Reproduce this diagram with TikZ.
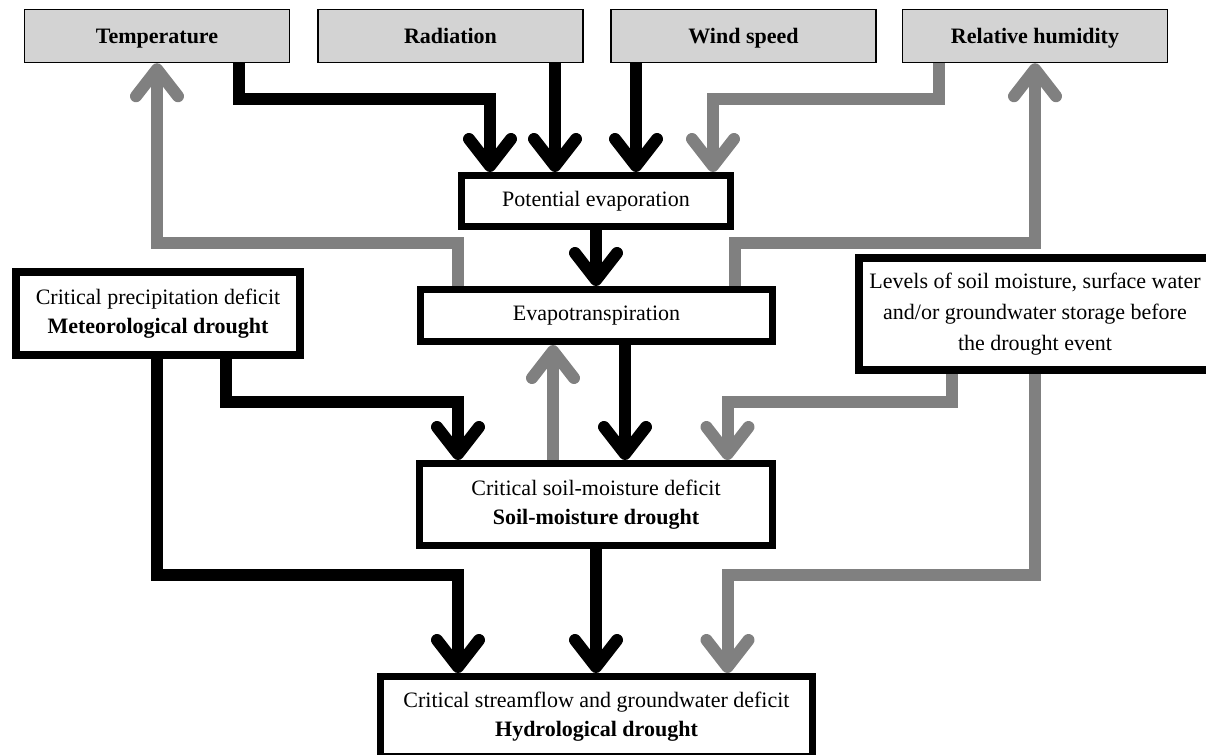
\documentclass[tikz,border=0pt]{standalone}
\usepackage{fontspec}
\setmainfont{Liberation Serif}
\usetikzlibrary{arrows.meta}
\def\px{0.75pt}
\definecolor{boxgray}{RGB}{211,211,211}
\definecolor{linegray}{RGB}{128,128,128}
\pgfdeclarearrow{
  name = Chev,
  setup code = {
    \pgfarrowssettipend{4.5pt}
    \pgfarrowssetlineend{-2pt}
    \pgfarrowssetbackend{-24.75pt}
  },
  drawing code = {
    \pgfsetdash{}{0pt}
    \pgfsetlinewidth{9pt}
    \pgfsetroundcap
    \pgfsetroundjoin
    \pgfpathmoveto{\pgfpoint{-20.25pt}{15.75pt}}
    \pgfpathlineto{\pgfpointorigin}
    \pgfpathlineto{\pgfpoint{-20.25pt}{-15.75pt}}
    \pgfusepathqstroke
  }
}
\tikzset{
  txt/.style={font=\fontsize{16.5pt}{21.75pt}\selectfont},
  topbox/.style={draw=black, line width=1.5*\px, fill=boxgray, minimum width=265*\px,
    minimum height=53*\px, inner sep=0pt, text height=11pt, text depth=0pt,
    font=\fontsize{16.5pt}{21.75pt}\selectfont\bfseries},
  mainbox/.style={txt, draw=black, line width=7*\px, fill=white, align=center, inner sep=0pt},
  blk/.style={draw=black, line width=12*\px, line join=miter, line cap=butt, -Chev},
  gry/.style={blk, draw=linegray},
}
\begin{document}
\begin{tikzpicture}[x=0.75pt, y=-0.75pt]
\useasboundingbox (0,0) rectangle (1206,755);
% top boxes
\node[topbox] (t) at (157,36) {Temperature};
\node[topbox] (r) at (450.5,36) {Radiation};
\node[topbox] (w) at (743.5,36) {Wind speed};
\node[topbox] (h) at (1035,36) {Relative humidity};
% main boxes
\node[mainbox, minimum width=269*\px, minimum height=51*\px] (pe) at (596,201) {Potential evaporation};
\node[mainbox, minimum width=352*\px, minimum height=52*\px] (et) at (596.5,315.5) {Evapotranspiration};
\node[mainbox, line width=8*\px, minimum width=284*\px, minimum height=83*\px] (met) at (158,313.5)
  {Critical precipitation deficit\\\textbf{Meteorological drought}};
\node[mainbox, line width=8*\px, minimum width=352*\px, minimum height=112*\px,
  font=\fontsize{16.5pt}{23pt}\selectfont] (lv) at (1035,314)
  {Levels of soil moisture, surface water\\and/or groundwater storage before\\the drought event};
\node[mainbox, minimum width=353*\px, minimum height=82*\px] (sm) at (596,504.5)
  {Critical soil-moisture deficit\\\textbf{Soil-moisture drought}};
\node[mainbox, minimum width=432*\px, minimum height=80*\px] (hy) at (596.5,716.5)
  {Critical streamflow and groundwater deficit\\\textbf{Hydrological drought}};
% connectors into potential evaporation
\draw[blk] (t.south -| 239,0) |- (490,99.5) -- (pe.north -| 490,0);
\draw[blk] (r.south -| 555,0) -- (pe.north -| 555,0);
\draw[blk] (w.south -| 636,0) -- (pe.north -| 636,0);
\draw[gry] (h.south -| 939,0) |- (713,99.5) -- (pe.north -| 713,0);
% evapotranspiration feedbacks
\draw[gry] (et.north -| 458,0) |- (157,243) -- (t.south);
\draw[gry] (et.north -| 735,0) |- (1035,243) -- (h.south);
\draw[blk] (pe.south) -- (pe.south |- et.north);
% between ET and SM
\draw[gry] (sm.north -| 553,0) -- (et.south -| 553,0);
\draw[blk] (et.south -| 625,0) -- (sm.north -| 625,0);
% meteorological drought
\draw[blk] (met.south -| 226,0) |- (458,402) -- (sm.north -| 458,0);
\draw[blk] (met.south -| 157,0) |- (458,574.5) -- (hy.north -| 458,0);
% antecedent storage
\draw[gry] (lv.south -| 952,0) |- (727.5,402) -- (sm.north -| 727.5,0);
\draw[gry] (lv.south -| 1035,0) |- (727.5,574.5) -- (hy.north -| 727.5,0);
% soil moisture to hydrological
\draw[blk] (sm.south) -- (sm.south |- hy.north);
\end{tikzpicture}
\end{document}
